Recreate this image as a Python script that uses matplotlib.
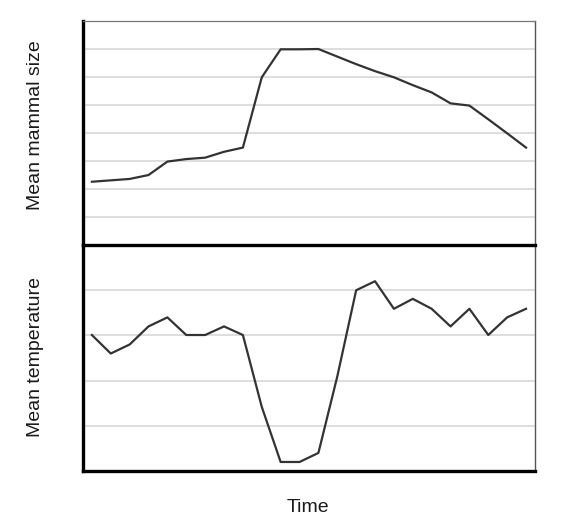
import numpy as np
import matplotlib
matplotlib.use("Agg")
import matplotlib.pyplot as plt

plt.rcParams['font.family'] = ['Liberation Sans', 'DejaVu Sans']

# time steps and the two series
t = np.arange(24)
size = [2.26, 2.31, 2.36, 2.5, 2.98, 3.07, 3.12, 3.33, 3.48, 5.99, 6.99, 6.99,
        7.0, 6.73, 6.46, 6.21, 5.99, 5.71, 5.45, 5.06, 4.98, 4.49, 3.99, 3.48]
temp = [3.01, 2.6, 2.8, 3.2, 3.4, 3.01, 3.01, 3.2, 3.01, 1.42, 0.2, 0.2,
        0.4, 2.09, 4.0, 4.2, 3.59, 3.81, 3.59, 3.2, 3.59, 3.01, 3.4, 3.59]
size_grid = [1, 2, 3, 4, 5, 6, 7]
temp_grid = [1, 2, 3, 4]

fig = plt.figure(figsize=(5.67, 5.23), dpi=100)
ax1 = fig.add_axes([0.1464, 0.5315, 0.797, 0.4283])
ax2 = fig.add_axes([0.1464, 0.0994, 0.797, 0.432])
ax1.set_zorder(3)  # keep the thick divider on top of the lower panel

line_col = '#333333'
grid_col = '#d4d4d4'

for ax, y, ymax, gr in [(ax1, size, 8, size_grid), (ax2, temp, 5, temp_grid)]:
    for g in gr:
        ax.axhline(g, color=grid_col, lw=1.1, zorder=0)
    ax.plot(t, y, color=line_col, lw=1.6, zorder=2)
    ax.set_xlim(-0.47, 23.47)
    ax.set_ylim(0, ymax)
    ax.set_xticks([])
    ax.set_yticks([])
    ax.spines['left'].set_linewidth(2.4)
    ax.spines['left'].set_color('black')
    ax.spines['right'].set_linewidth(1.0)
    ax.spines['right'].set_color('#555555')

ax1.spines['top'].set_linewidth(0.9)
ax1.spines['top'].set_color('#777777')
ax1.spines['bottom'].set_linewidth(2.4)
ax1.spines['bottom'].set_color('black')
ax2.spines['top'].set_visible(False)
ax2.spines['bottom'].set_linewidth(2.4)
ax2.spines['bottom'].set_color('black')

fig.text(35.5 / 567, 1 - 125 / 523, 'Mean mammal size', rotation=90,
         ha='center', va='center', fontsize=14, color='#1a1a1a')
fig.text(35.5 / 567, 1 - 357 / 523, 'Mean temperature', rotation=90,
         ha='center', va='center', fontsize=14, color='#1a1a1a')
fig.text(308 / 567, 1 - 507 / 523, 'Time', ha='center', va='center',
         fontsize=14, color='#1a1a1a')

fig.savefig('out.png', dpi=100)
